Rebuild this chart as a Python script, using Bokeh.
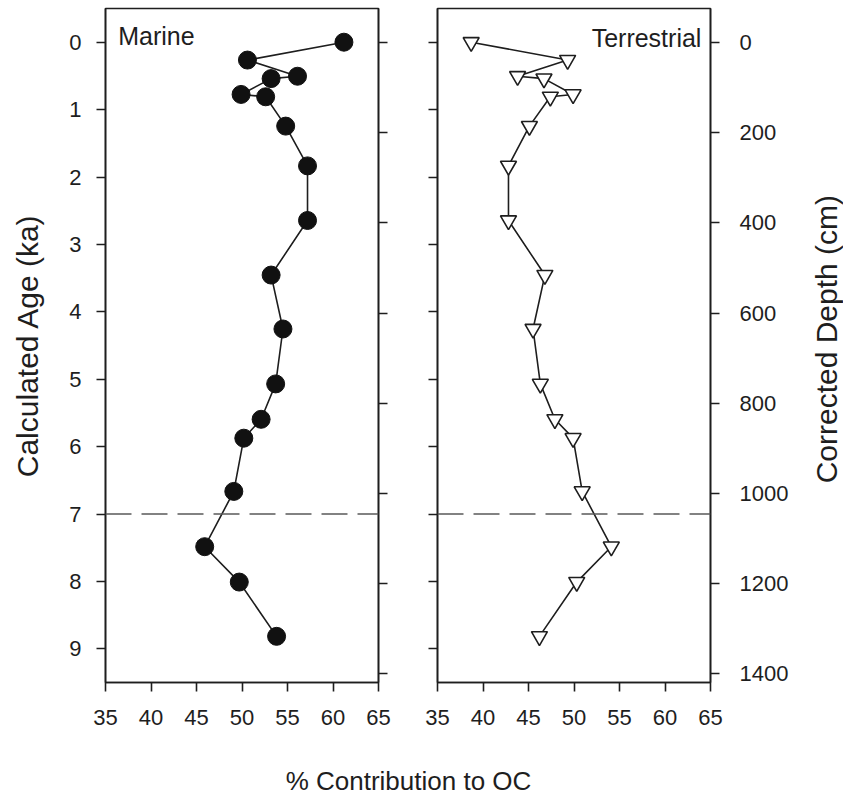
import math
from bokeh.plotting import figure
from bokeh.models import Range1d, LinearAxis, FixedTicker, Span, Label
from bokeh.layouts import row, column
from bokeh.embed import file_html
from bokeh.resources import INLINE

# ---- data ----
age_ka = [0.0, 0.265, 0.505, 0.54, 0.775, 0.81, 1.245, 1.835, 2.645, 3.455,
          4.255, 5.07, 5.595, 5.875, 6.665, 7.485, 8.01, 8.815]
marine = [61.2, 50.6, 56.1, 53.2, 49.9, 52.6, 54.8, 57.2, 57.2, 53.2,
          54.5, 53.7, 52.1, 50.2, 49.1, 45.9, 49.7, 53.8]
terrestrial = [38.7, 49.3, 43.8, 46.7, 49.9, 47.4, 45.1, 42.8, 42.8, 46.8,
               45.5, 46.3, 47.9, 49.9, 50.9, 54.1, 50.3, 46.2]
x_ticks = [35, 40, 45, 50, 55, 60, 65]
age_ticks = [0, 1, 2, 3, 4, 5, 6, 7, 8, 9]
depth_ticks = [0, 200, 400, 600, 800, 1000, 1200, 1400]
boundary_age = 7

FONT = "Liberation Sans"
TXT = "#1e1e1e"
LINE = "#1e1e1e"
ROW_H = 742   # 8 + 674 + 60


def base_fig(border_left, border_right):
    p = figure(frame_width=273, frame_height=674,
               x_range=Range1d(35, 65), y_range=Range1d(9.5, -0.5),
               output_backend="svg", toolbar_location=None,
               min_border_left=border_left, min_border_right=border_right,
               min_border_top=8, min_border_bottom=60,
               background_fill_color="white", border_fill_color="white")
    p.extra_y_ranges = {"depth": Range1d(1419, -75)}
    p.xgrid.visible = False
    p.ygrid.visible = False
    p.outline_line_color = LINE
    p.outline_line_width = 1.6
    p.outline_line_alpha = 1.0
    return p


def style_axis(ax, standoff, ticks, show_labels=True):
    ax.ticker = FixedTicker(ticks=ticks)
    ax.axis_line_color = LINE
    ax.axis_line_width = 1.6
    ax.major_tick_line_color = LINE
    ax.major_tick_line_width = 1.6
    ax.major_tick_out = 9
    ax.major_tick_in = 0
    ax.minor_tick_line_color = None
    ax.major_label_text_font = FONT
    ax.major_label_text_font_size = "22px"
    ax.major_label_text_color = TXT
    ax.major_label_standoff = standoff
    ax.axis_label_text_font = FONT
    ax.axis_label_text_font_size = "30px"
    ax.axis_label_text_font_style = "normal"
    ax.axis_label_text_color = TXT
    if not show_labels:
        ax.major_label_overrides = {t: "" for t in ticks}
        ax.major_label_text_color = None


def blank_fig(w, h):
    p = figure(width=w, height=h, x_range=Range1d(0, w), y_range=Range1d(0, h),
               output_backend="svg", toolbar_location=None, min_border=0,
               outline_line_color=None)
    p.axis.visible = False
    p.grid.visible = False
    return p


# ---------- left panel: Marine ----------
p1 = base_fig(105, 20)
style_axis(p1.xaxis[0], 18, x_ticks)
style_axis(p1.yaxis[0], 15, age_ticks)
p1.yaxis.axis_label = "Calculated Age (ka)"
p1.yaxis.axis_label_standoff = 22
r1 = LinearAxis(y_range_name="depth")
style_axis(r1, 0, depth_ticks, show_labels=False)
p1.add_layout(r1, "right")

p1.add_layout(Span(location=boundary_age, dimension="width", line_color="#5a5a5a",
                   line_width=1.5, line_dash="26 10"))
p1.line(marine, age_ka, line_color=LINE, line_width=1.6)
p1.scatter(marine, age_ka, marker="circle", size=18, fill_color="#111111",
           line_color="#111111")
p1.add_layout(Label(x=36.4, y=-0.09, text="Marine", text_font=FONT,
                    text_font_size="25px", text_color=TXT,
                    text_baseline="middle", text_align="left"))

# ---------- right panel: Terrestrial ----------
p2 = base_fig(39, 82)
style_axis(p2.xaxis[0], 18, x_ticks)
style_axis(p2.yaxis[0], 0, age_ticks, show_labels=False)
r2 = LinearAxis(y_range_name="depth")
style_axis(r2, 20, depth_ticks)
p2.add_layout(r2, "right")

p2.add_layout(Span(location=boundary_age, dimension="width", line_color="#5a5a5a",
                   line_width=1.5, line_dash="26 10"))
p2.line(terrestrial, age_ka, line_color=LINE, line_width=1.6)
p2.scatter(terrestrial, age_ka, marker="inverted_triangle", size=16,
           fill_color="white", line_color=LINE, line_width=1.6)
p2.add_layout(Label(x=64.0, y=-0.06, text="Terrestrial", text_font=FONT,
                    text_font_size="25px", text_color=TXT,
                    text_baseline="middle", text_align="right"))

# ---------- right-hand axis title (reads bottom-to-top) ----------
p4 = blank_fig(51, ROW_H)
p4.add_layout(Label(x=34, y=ROW_H - 364, text="Corrected Depth (cm)", text_font=FONT,
                    text_font_size="30px", text_color=TXT, angle=math.pi / 2,
                    text_align="center", text_baseline="middle"))

# ---------- shared x-axis title ----------
p3 = blank_fig(844, 55)
p3.add_layout(Label(x=408, y=17, text="% Contribution to OC", text_font=FONT,
                    text_font_size="26px", text_color=TXT,
                    text_align="center", text_baseline="middle"))

layout = column(row(p1, p2, p4), p3)
open("out.html", "w").write(file_html(layout, INLINE))
